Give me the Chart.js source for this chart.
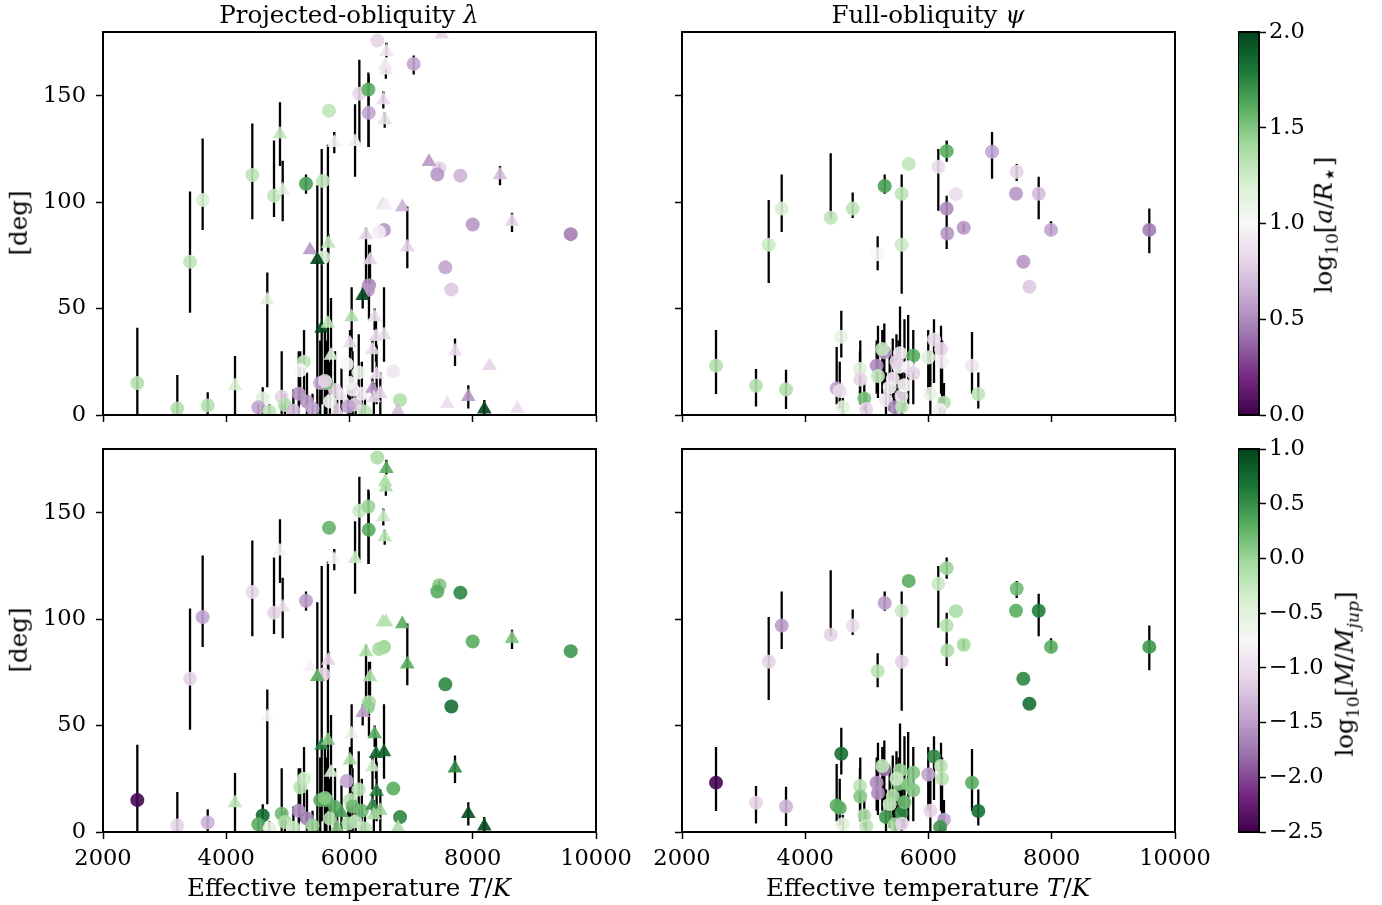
<!DOCTYPE html>
<html>
<head>
<meta charset="utf-8">
<script src="https://cdn.jsdelivr.net/npm/chart.js@4.4.0/dist/chart.umd.min.js"></script>
<style>
  body { margin: 0; background: #fff; width: 1382px; height: 905px; position: relative; overflow: hidden;
         font-family: "DejaVu Serif", serif; color: #000; }
  canvas { position: absolute; }
  .lbl { position: absolute; font-size: 24.5px; white-space: nowrap; line-height: 1; }
  .rot { transform: translate(-50%, -50%) rotate(-90deg); }
  .ctr { transform: translateX(-50%); }
  sub { font-size: 70%; line-height: 0; }
  .star { font-size: 100%; }
</style>
</head>
<body>
<canvas id="tl"></canvas>
<canvas id="tr"></canvas>
<canvas id="bl"></canvas>
<canvas id="br"></canvas>
<canvas id="cbTop"></canvas>
<canvas id="cbBot"></canvas>

<div class="lbl ctr" style="left:349px; top:3px">Projected-obliquity <i>λ</i></div>
<div class="lbl ctr" style="left:928px; top:3px">Full-obliquity <i>ψ</i></div>
<div class="lbl ctr" style="left:349px; top:876px">Effective temperature <i>T</i>/<i>K</i></div>
<div class="lbl ctr" style="left:928px; top:876px">Effective temperature <i>T</i>/<i>K</i></div>
<div class="lbl rot" style="left:19px; top:223px">[deg]</div>
<div class="lbl rot" style="left:19px; top:640px">[deg]</div>
<div class="lbl rot" style="left:1324px; top:225px">log<sub>10</sub>[<i>a</i>/<i>R</i><sub class="star">⋆</sub>]</div>
<div class="lbl rot" style="left:1345px; top:674px">log<sub>10</sub>[<i>M</i>/<i>M</i><sub><i>jup</i></sub>]</div>

<script>
// ---- data: projected obliquity lambda (left panels) ----
const lamTeff = [2557, 3206, 3699, 4142, 3412, 3617, 4423, 4775, 4872, 4916,
                 5294, 5570, 5667, 5753, 4666, 6451, 7495, 6598, 6580, 6590,
                 7042, 6160, 6306, 6312, 6549, 6571, 6090, 7290, 7458, 7425,
                 7799, 8442, 6541, 6590, 6857, 6560, 6480, 7999, 8637, 9590,
                 6938, 7555, 7653, 6268, 6333, 6316, 6300, 6214, 6035, 6408,
                 6430, 6560, 6008, 6373, 7712, 8274, 6711, 6820, 7928, 7588,
                 8188, 8723, 6373, 6787, 5575, 5359, 5478, 5657, 5549, 5650,
                 5955, 5262, 5200, 5176, 5310, 4592, 4520, 4900, 4953, 4700,
                 5765, 5626, 5525, 5600, 5683, 6008, 6251, 6395, 6500, 6100,
                 6200, 5400, 5800, 5090, 5870, 6150, 6440, 5980, 5700, 6050];
const lamDeg  = [15, 3, 4.5, 13.6, 72, 101, 112.8, 103, 132, 105.6,
                 108.7, 110, 143, 128, 54, 176, 179, 170.7, 164.5, 162,
                 165, 151, 153, 142, 148, 138.6, 128.4, 119, 116, 113,
                 112.5, 112.8, 98.7, 98.7, 97.7, 87, 86, 89.5, 90.8, 85,
                 78.8, 69.4, 59, 84.6, 72.8, 61, 58.7, 56, 46, 46,
                 36.8, 37.6, 33.7, 30.5, 30, 23.2, 20.4, 7, 8.6, 5.3,
                 2.7, 3, 12.5, 2, 74, 77.5, 73, 80.6, 40.7, 43,
                 24, 25, 21, 10, 6.3, 7.8, 3.6, 8.6, 4.7, 1.6,
                 11.7, 14.9, 15, 16, 6.3, 15, 1.6, 8, 10, 5,
                 10, 3, 2, 2, 9, 20, 19, 4, 28, 12];
const lamLo   = [0, 0, 0, 0, 48, 87, 92, 93, 117, 91,
                 104, 110, 143, 123, 13, 176, 179, 168, 164.5, 158,
                 160, 128, 126, 126, 144, 135, 112, 119, 114, 113,
                 112.5, 108, 98.7, 98.7, 97.7, 87, 86, 89.5, 86, 85,
                 69, 69.4, 59, 60, 60, 45, 58.7, 50, 30, 40,
                 25, 25, 25, 20, 23, 23.2, 20.4, 7, 3, 5.3,
                 0, 3, 8, 2, 74, 77.5, 0, 72, 5, 10,
                 24, 10, 5, 0, 0, 0, 0, 0, 0, 0,
                 0, 0, 0, 0, 0, 0, 0, 0, 0, 0,
                 0, 0, 0, 0, 0, 5, 5, 0, 10, 0];
const lamHi   = [41, 18.8, 10.7, 27.7, 105, 130, 137, 129, 147, 119.5,
                 113, 110, 143, 133, 67, 176, 179, 175, 164.5, 164,
                 169, 167, 161, 160, 152, 142, 146, 119, 118, 113,
                 112.5, 117, 98.7, 98.7, 97.7, 87, 86, 89.5, 95, 85,
                 98, 69.4, 59, 88, 80, 80, 58.7, 60, 60, 50,
                 45, 60, 40, 36, 36, 23.2, 20.4, 7, 14, 5.3,
                 7, 3, 18, 2, 74, 77.5, 108, 85, 125, 127,
                 24, 40, 30, 30, 20, 13, 5, 30, 10, 5,
                 30, 35, 35, 40, 25, 40, 8, 15, 20, 15,
                 25, 10, 10, 12, 22, 38, 33, 14, 55, 30];
const lamTri  = [0, 0, 0, 1, 0, 0, 0, 0, 1, 1,
                 0, 0, 0, 1, 1, 0, 1, 1, 1, 1,
                 0, 0, 0, 0, 1, 1, 1, 1, 0, 0,
                 0, 1, 1, 1, 1, 0, 0, 0, 1, 0,
                 1, 0, 0, 1, 1, 0, 0, 1, 1, 1,
                 1, 1, 1, 1, 1, 1, 0, 0, 1, 1,
                 1, 1, 1, 1, 0, 1, 1, 1, 1, 1,
                 0, 0, 0, 0, 0, 0, 0, 0, 0, 0,
                 0, 0, 0, 0, 0, 0, 0, 1, 1, 0,
                 0, 0, 1, 0, 1, 0, 1, 0, 1, 0];
const lamLogA = [1.35, 1.35, 1.35, 1.2, 1.3, 1.2, 1.3, 1.3, 1.3, 1.15,
                 1.65, 1.3, 1.3, 0.95, 1.15, 0.8, 0.8, 0.9, 0.9, 0.9,
                 0.6, 0.8, 1.6, 0.6, 0.85, 0.85, 0.95, 0.55, 0.8, 0.55,
                 0.65, 0.7, 0.85, 0.95, 0.65, 0.55, 0.95, 0.55, 0.8, 0.45,
                 0.8, 0.6, 0.75, 0.8, 0.8, 0.5, 0.55, 2.0, 1.35, 0.85,
                 0.85, 0.85, 0.85, 0.85, 0.85, 0.8, 0.9, 1.35, 0.55, 0.85,
                 2.0, 0.85, 0.55, 0.7, 1.2, 0.55, 2.0, 1.3, 2.0, 1.3,
                 1.0, 1.3, 1.0, 0.55, 0.55, 1.15, 0.6, 0.8, 1.35, 1.3,
                 0.8, 1.5, 0.6, 0.8, 1.05, 1.0, 1.3, 0.8, 0.8, 0.8,
                 0.95, 0.6, 0.8, 0.7, 0.9, 1.05, 0.85, 0.6, 1.2, 0.95];
const lamLogM = [-2.45, -1.1, -1.35, -0.2, -1.1, -1.45, -1.05, -1.1, -0.8, -1.0,
                 -1.5, null, 0.25, -0.75, -0.75, -0.1, null, 0.3, -0.1, -0.1,
                 null, -0.3, 0.0, 0.3, -0.3, -0.2, -0.3, null, 0.1, 0.3,
                 0.55, null, -0.15, -0.15, 0.3, 0.0, -0.05, 0.3, 0.15, 0.45,
                 0.3, 0.55, 0.7, -0.1, -0.1, -0.1, 0.05, -1.5, -0.55, 0.3,
                 0.75, 0.8, -0.1, -0.3, 0.55, null, 0.3, 0.55, 0.95, null,
                 0.95, null, 0.5, -0.1, -1.1, -0.8, 0.3, -1.1, 0.6, 0.1,
                 -1.45, -0.35, -0.2, -1.6, -1.7, 0.75, 0.3, 0.2, -0.1, -0.5,
                 0.3, 0.3, 0.3, 0.1, -0.1, -0.2, -0.2, -0.1, 0.0, -0.3,
                 0.2, 0.0, 0.1, -0.3, 0.4, -0.2, 0.6, -0.1, -0.4, 0.2];

// ---- data: full obliquity psi (right panels) ----
const psiTeff = [2552, 3201, 3688, 3407, 3618, 4413, 4770, 5289, 5679, 5565,
                 5565, 6159, 6295, 6446, 6295, 6571, 6305, 7031, 7431, 7420,
                 7788, 7988, 9583, 7539, 7637, 5175, 4585, 4510, 4560, 4610,
                 4888, 4893, 4958, 4990, 5159, 5180, 5283, 5250, 5538, 5753,
                 5520, 5670, 5753, 5370, 5310, 5456, 5560, 5570, 5996, 6089,
                 6203, 6220, 6030, 6251, 6190, 6706, 6808, 5420, 5610, 5480];
const psiDeg  = [23.2, 13.8, 12, 80, 97, 92.7, 97, 107.6, 118, 104,
                 80, 116.7, 124, 103.8, 97, 88, 85.3, 123.7, 114.3, 104,
                 104, 87, 87, 72, 60.3, 75.6, 36.8, 12.5, 11.3, 3.6,
                 21.6, 16.7, 7.8, 2.8, 23.2, 18.3, 29.5, 31, 29, 27.9,
                 22.7, 22.5, 19.6, 13, 7, 3.6, 8.9, 3.9, 27, 35.5,
                 31, 25, 10, 5.8, 2.3, 23.2, 9.9, 17, 14, 25];
const psiLo   = [9.9, 4, 2.8, 62, 86, 92, 92.6, 104, 118, 92,
                 57, 96, 119, 103.8, 78, 86, 85.3, 111, 110, 104,
                 92, 85, 76, 72, 60.3, 68, 27, 5, 3, 0,
                 10, 5, 2, 0, 10, 8, 15, 10, 15, 15,
                 8, 5, 5, 2, 0, 0, 0, 0, 10, 15,
                 10, 5, 0, 0, 0, 10, 3, 5, 2, 10];
const psiHi   = [40, 21.6, 21.3, 101, 113, 123, 104.6, 113, 118, 113,
                 104, 125, 129, 103.8, 103, 90, 85.3, 133, 118, 104,
                 112, 91, 97, 72, 60.3, 84, 49, 32, 25, 8,
                 30, 35, 15, 10, 35, 42, 43, 40, 51, 40,
                 35, 47, 40, 30, 20, 15, 25, 20, 40, 45,
                 42, 35, 30, 15, 8, 39, 20, 36, 45, 38];
const psiLogA = [1.35, 1.35, 1.35, 1.25, 1.2, 1.3, 1.3, 1.65, 1.3, 1.3,
                 1.25, 0.85, 1.6, 0.85, 0.5, 0.55, 0.55, 0.6, 0.8, 0.55,
                 0.7, 0.6, 0.45, 0.55, 0.75, 1.0, 1.1, 0.6, 0.85, 1.15,
                 1.15, 0.8, 1.5, 0.8, 0.5, 1.3, 0.55, 1.3, 0.95, 1.6,
                 1.0, 1.0, 0.8, 1.05, 0.9, 0.5, 0.85, 1.3, 1.15, 0.85,
                 0.8, 0.95, 1.1, 1.35, 0.95, 0.9, 1.3, 0.9, 1.0, 0.8];
const psiLogM = [-2.45, -1.1, -1.35, -1.1, -1.5, -1.1, -1.0, -1.5, 0.3, -0.3,
                 -1.1, -0.3, 0.0, -0.1, -0.15, -0.05, -0.1, null, 0.2, 0.3,
                 0.6, 0.3, 0.45, 0.55, 0.7, -0.2, 0.7, 0.3, 0.3, -0.5,
                 -0.2, 0.1, -0.1, -0.2, -1.6, -1.6, -1.8, -0.2, 0.0, 0.1,
                 0.1, 0.1, 0.1, -0.3, 0.45, -0.05, 0.55, -1.1, -1.45, 0.55,
                 -0.2, -0.2, -1.1, -1.45, 0.45, 0.3, 0.7, -0.1, 0.2, -0.3];

// ---- axes ----
const xTicks = [2000, 4000, 6000, 8000, 10000];
const yTicks = [0, 50, 100, 150];
const aTicks = [0, 0.5, 1.0, 1.5, 2.0];
const mTicks = [-2.5, -2.0, -1.5, -1.0, -0.5, 0.0, 0.5, 1.0];

const FONT = '"DejaVu Serif", serif';
Chart.defaults.font.family = FONT;
Chart.defaults.font.size = 22.5;
Chart.defaults.color = '#000';

// PRGn colormap
const PRGN = ['#40004b', '#762a83', '#9970ab', '#c2a5cf', '#e7d4e8', '#f7f7f7',
              '#d9f0d3', '#a6dba0', '#5aae61', '#1b7837', '#00441b'];
const rgb = h => [1, 3, 5].map(i => parseInt(h.slice(i, i + 2), 16));
function cmap(v, vmin, vmax) {
  const t = Math.max(0, Math.min(1, (v - vmin) / (vmax - vmin))) * 10;
  const i = Math.min(9, Math.floor(t)), f = t - i;
  const a = rgb(PRGN[i]), b = rgb(PRGN[i + 1]);
  const c = a.map((x, k) => Math.round(x + (b[k] - x) * f));
  return `rgba(${c[0]},${c[1]},${c[2]},0.9)`;
}

const AXW = 100, AXH = 40, PT = 30, PR = 50, PW = 493, PH = 383;

const frame = {
  id: 'frame',
  afterDraw(chart) {
    const { ctx, chartArea: a } = chart;
    ctx.save();
    ctx.strokeStyle = '#000';
    ctx.lineWidth = 2;
    ctx.strokeRect(a.left, a.top, a.right - a.left, a.bottom - a.top);
    ctx.restore();
  }
};

function errBars(bars) {
  return {
    id: 'errbars',
    beforeDatasetsDraw(chart) {
      const { ctx, chartArea: a, scales: { x, y } } = chart;
      ctx.save();
      ctx.beginPath();
      ctx.rect(a.left, a.top, a.right - a.left, a.bottom - a.top);
      ctx.clip();
      ctx.strokeStyle = '#000';
      ctx.lineWidth = 2.3;
      ctx.beginPath();
      bars.forEach(([t, lo, hi]) => {
        if (hi - lo < 0.5) return;
        const px = x.getPixelForValue(t);
        ctx.moveTo(px, y.getPixelForValue(lo));
        ctx.lineTo(px, y.getPixelForValue(hi));
      });
      ctx.stroke();
      ctx.restore();
    }
  };
}

function axisOpts(showX, showY) {
  const grid = { drawOnChartArea: false, drawTicks: true, tickLength: 7, tickWidth: 1.5, tickColor: '#000' };
  const border = { display: true, color: '#000', width: 2 };
  return {
    x: {
      type: 'linear', min: 2000, max: 10000,
      afterBuildTicks: s => { s.ticks = xTicks.map(v => ({ value: v })); },
      ticks: { display: showX, padding: 7, maxRotation: 0, autoSkip: false, callback: v => String(v) },
      grid, border,
      afterFit: s => { s.height = AXH; }
    },
    y: {
      type: 'linear', min: 0, max: 180,
      afterBuildTicks: s => { s.ticks = yTicks.map(v => ({ value: v })); },
      ticks: { display: showY, padding: 10, autoSkip: false, callback: v => String(v) },
      grid, border,
      afterFit: s => { s.width = AXW; }
    }
  };
}

function panel(id, left, top, teff, deg, lo, hi, tri, cval, vmin, vmax, showX, showY) {
  const cv = document.getElementById(id);
  cv.width = AXW + PW + PR;
  cv.height = PT + PH + AXH;
  cv.style.left = (left - AXW) + 'px';
  cv.style.top = (top - PT) + 'px';

  const circ = [], circCol = [], tris = [], triCol = [], bars = [];
  teff.forEach((t, i) => {
    if (cval[i] === null) return;
    const col = cmap(cval[i], vmin, vmax);
    bars.push([t, lo[i], hi[i]]);
    if (tri && tri[i]) { tris.push({ x: t, y: deg[i] }); triCol.push(col); }
    else { circ.push({ x: t, y: deg[i] }); circCol.push(col); }
  });

  new Chart(cv, {
    type: 'scatter',
    data: {
      datasets: [
        { data: tris, pointStyle: 'triangle', pointRadius: 8.5, pointBackgroundColor: triCol,
          pointBorderWidth: 0, pointBorderColor: 'rgba(0,0,0,0)', clip: 0 },
        { data: circ, pointStyle: 'circle', pointRadius: 7, pointBackgroundColor: circCol,
          pointBorderWidth: 0, pointBorderColor: 'rgba(0,0,0,0)', clip: 0 }
      ]
    },
    options: {
      responsive: false, animation: false, events: [],
      layout: { padding: { left: 0, top: PT, right: PR, bottom: 0 } },
      plugins: { legend: { display: false }, tooltip: { enabled: false } },
      scales: axisOpts(showX, showY)
    },
    plugins: [errBars(bars), frame]
  });
}

function colorbar(id, top, vmin, vmax, ticks) {
  const cv = document.getElementById(id);
  const CBW = 21, LW = 110;
  cv.width = CBW + LW;
  cv.height = PH + 60;
  cv.style.left = '1238px';
  cv.style.top = (top - 30) + 'px';
  new Chart(cv, {
    type: 'bar',
    data: {
      labels: [''],
      datasets: [{
        data: [[vmin, vmax]],
        barPercentage: 1, categoryPercentage: 1, borderWidth: 0,
        backgroundColor: c => {
          const a = c.chart.chartArea;
          if (!a) return '#fff';
          const g = c.chart.ctx.createLinearGradient(0, a.bottom, 0, a.top);
          PRGN.forEach((h, i) => g.addColorStop(i / 10, h));
          return g;
        }
      }]
    },
    options: {
      responsive: false, animation: false, events: [],
      layout: { padding: { left: 0, top: 30, right: 0, bottom: 30 } },
      plugins: { legend: { display: false }, tooltip: { enabled: false } },
      scales: {
        x: { display: false },
        y: {
          position: 'right', min: vmin, max: vmax,
          afterBuildTicks: s => { s.ticks = ticks.map(v => ({ value: v })); },
          ticks: { padding: 3, autoSkip: false,
                   callback: v => (v < 0 ? '\u2212' : '') + Math.abs(v).toFixed(1) },
          grid: { drawOnChartArea: false, drawTicks: true, tickLength: 7, tickWidth: 1.5, tickColor: '#000' },
          border: { display: true, color: '#000', width: 1.5 },
          afterFit: s => { s.width = LW; }
        }
      }
    },
    plugins: [frame]
  });
}

panel('tl', 103, 32, lamTeff, lamDeg, lamLo, lamHi, lamTri, lamLogA, 0, 2, false, true);
panel('tr', 682, 32, psiTeff, psiDeg, psiLo, psiHi, null, psiLogA, 0, 2, false, false);
panel('bl', 103, 449, lamTeff, lamDeg, lamLo, lamHi, lamTri, lamLogM, -2.5, 1, true, true);
panel('br', 682, 449, psiTeff, psiDeg, psiLo, psiHi, null, psiLogM, -2.5, 1, true, false);
colorbar('cbTop', 32, 0, 2, aTicks);
colorbar('cbBot', 449, -2.5, 1, mTicks);
</script>
</body>
</html>
